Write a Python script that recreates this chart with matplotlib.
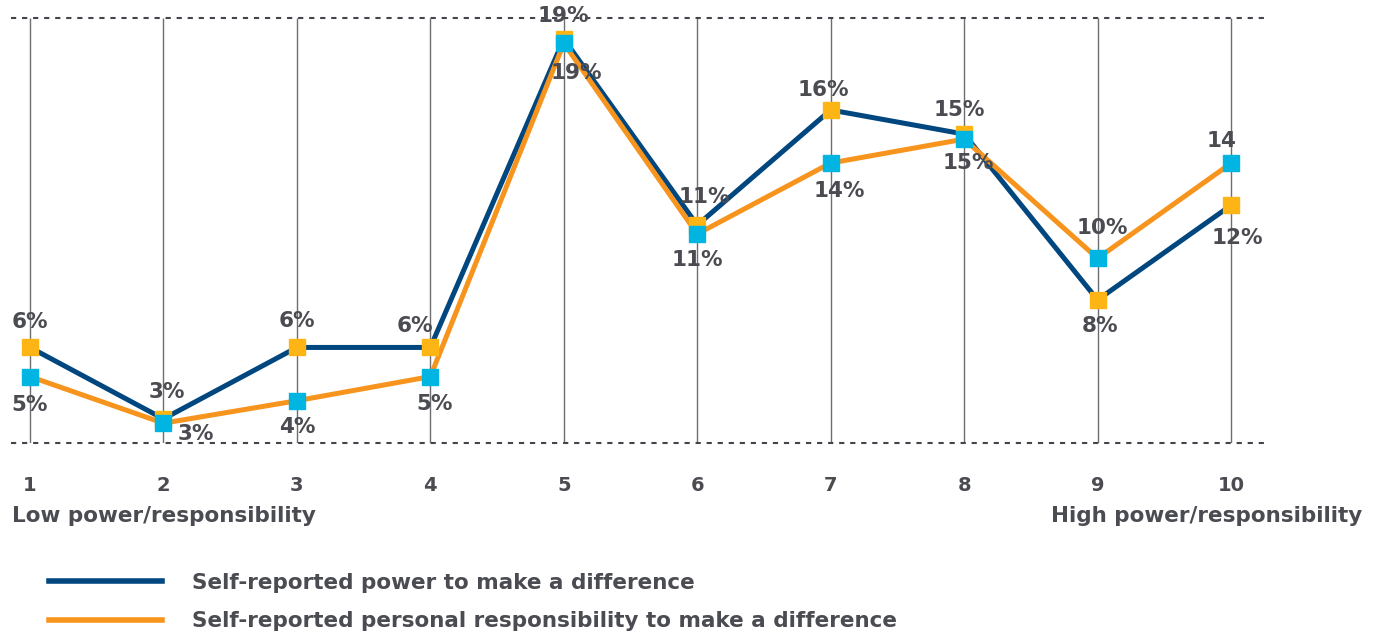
import matplotlib
matplotlib.use('Agg')
import matplotlib.pyplot as plt
from matplotlib.lines import Line2D

plt.rcParams['font.family'] = ['DejaVu Sans']
plt.rcParams['font.weight'] = 'bold'

# scale 1..10
levels = [1, 2, 3, 4, 5, 6, 7, 8, 9, 10]
tick_labels = ['1', '2', '3', '4', '5', '6', '7', '8', '9', '10']

# values in %
power = [6.16, 3.17, 6.16, 6.16, 19.07, 11.28, 16.10, 15.09, 8.15, 12.11]
responsibility = [4.94, 2.99, 3.93, 4.94, 18.89, 10.91, 13.88, 14.88, 9.89, 13.87]

power_labels = ['6%', '3%', '6%', '6%', '19%', '11%', '16%', '15%', '8%', '12%']
resp_labels = ['5%', '3%', '4%', '5%', '19%', '11%', '14%', '15%', '10%', '14']

series_names = ['Self-reported power to make a difference',
                'Self-reported personal responsibility to make a difference']

# label offsets in pixels (dx, dy)
power_offsets = [(0, 25), (3, 27), (0, 26), (-15, 21), (0, 23),
                 (7, 28), (-7, 20), (-5, 24), (2, -26), (6, -33)]
resp_offsets = [(0, -28), (32, -11), (0, -26), (4, -27), (13, -30),
                (0, -26), (9, -28), (4, -24), (5, 30), (-10, 22)]

navy = '#00467f'
orange = '#f7941d'
gold = '#fdb515'
cyan = '#00b5e2'
grey_text = '#4b4c52'

W, H = 1380, 636
fig = plt.figure(figsize=(W / 100, H / 100), dpi=100)
ax = fig.add_axes([11 / W, 1 - 443 / H, (1268 - 11) / W, (443 - 18) / H])

ylo, yhi = 2.16, 19.95
ax.set_xlim(0.8576, 10.277)
ax.set_ylim(ylo, yhi)

# vertical guides and dashed top/bottom
ax.vlines(levels, ylo, yhi, color='#6d6e72', lw=1, zorder=1)
for yy in (ylo, yhi):
    ax.axhline(yy, color='#43444c', lw=1.5, linestyle=(0, (2.5, 2.8)), zorder=1, clip_on=False)

ax.plot(levels, power, color=navy, lw=3.6, zorder=3, solid_joinstyle='miter')
ax.plot(levels, responsibility, color=orange, lw=3.6, zorder=4, solid_joinstyle='miter')
ax.plot(levels, power, ls='none', marker='s', ms=12, color=gold, zorder=5)
ax.plot(levels, responsibility, ls='none', marker='s', ms=12, color=cyan, zorder=6)

for x, v, lab, off in zip(levels, power, power_labels, power_offsets):
    ax.annotate(lab, (x, v), xytext=off, textcoords='offset pixels', ha='center', va='center',
                fontsize=15.5, fontweight='bold', color=grey_text, zorder=7, annotation_clip=False)
for x, v, lab, off in zip(levels, responsibility, resp_labels, resp_offsets):
    ax.annotate(lab, (x, v), xytext=off, textcoords='offset pixels', ha='center', va='center',
                fontsize=15.5, fontweight='bold', color=grey_text, zorder=7, annotation_clip=False)

ax.set_xticks(levels)
ax.set_xticklabels(tick_labels, fontsize=14, fontweight='bold', color=grey_text)
ax.tick_params(axis='x', length=0, pad=24)
ax.set_yticks([])
for s in ax.spines.values():
    s.set_visible(False)

fig.text(12 / W, 1 - 516 / H, 'Low power/responsibility', ha='left', va='center',
         fontsize=15.5, fontweight='bold', color=grey_text)
fig.text(1362 / W, 1 - 516 / H, 'High power/responsibility', ha='right', va='center',
         fontsize=15.5, fontweight='bold', color=grey_text)

handles = [Line2D([], [], color=navy, lw=4), Line2D([], [], color=orange, lw=4)]
leg = fig.legend(handles, series_names, loc='center left', bbox_to_anchor=(40 / W, 1 - 602 / H),
                 frameon=False, handlelength=5.25, handletextpad=1.4, labelspacing=0.85,
                 borderaxespad=0, prop={'size': 15.5, 'weight': 'bold'})
for t in leg.get_texts():
    t.set_color(grey_text)

fig.savefig('out.png', dpi=100)
